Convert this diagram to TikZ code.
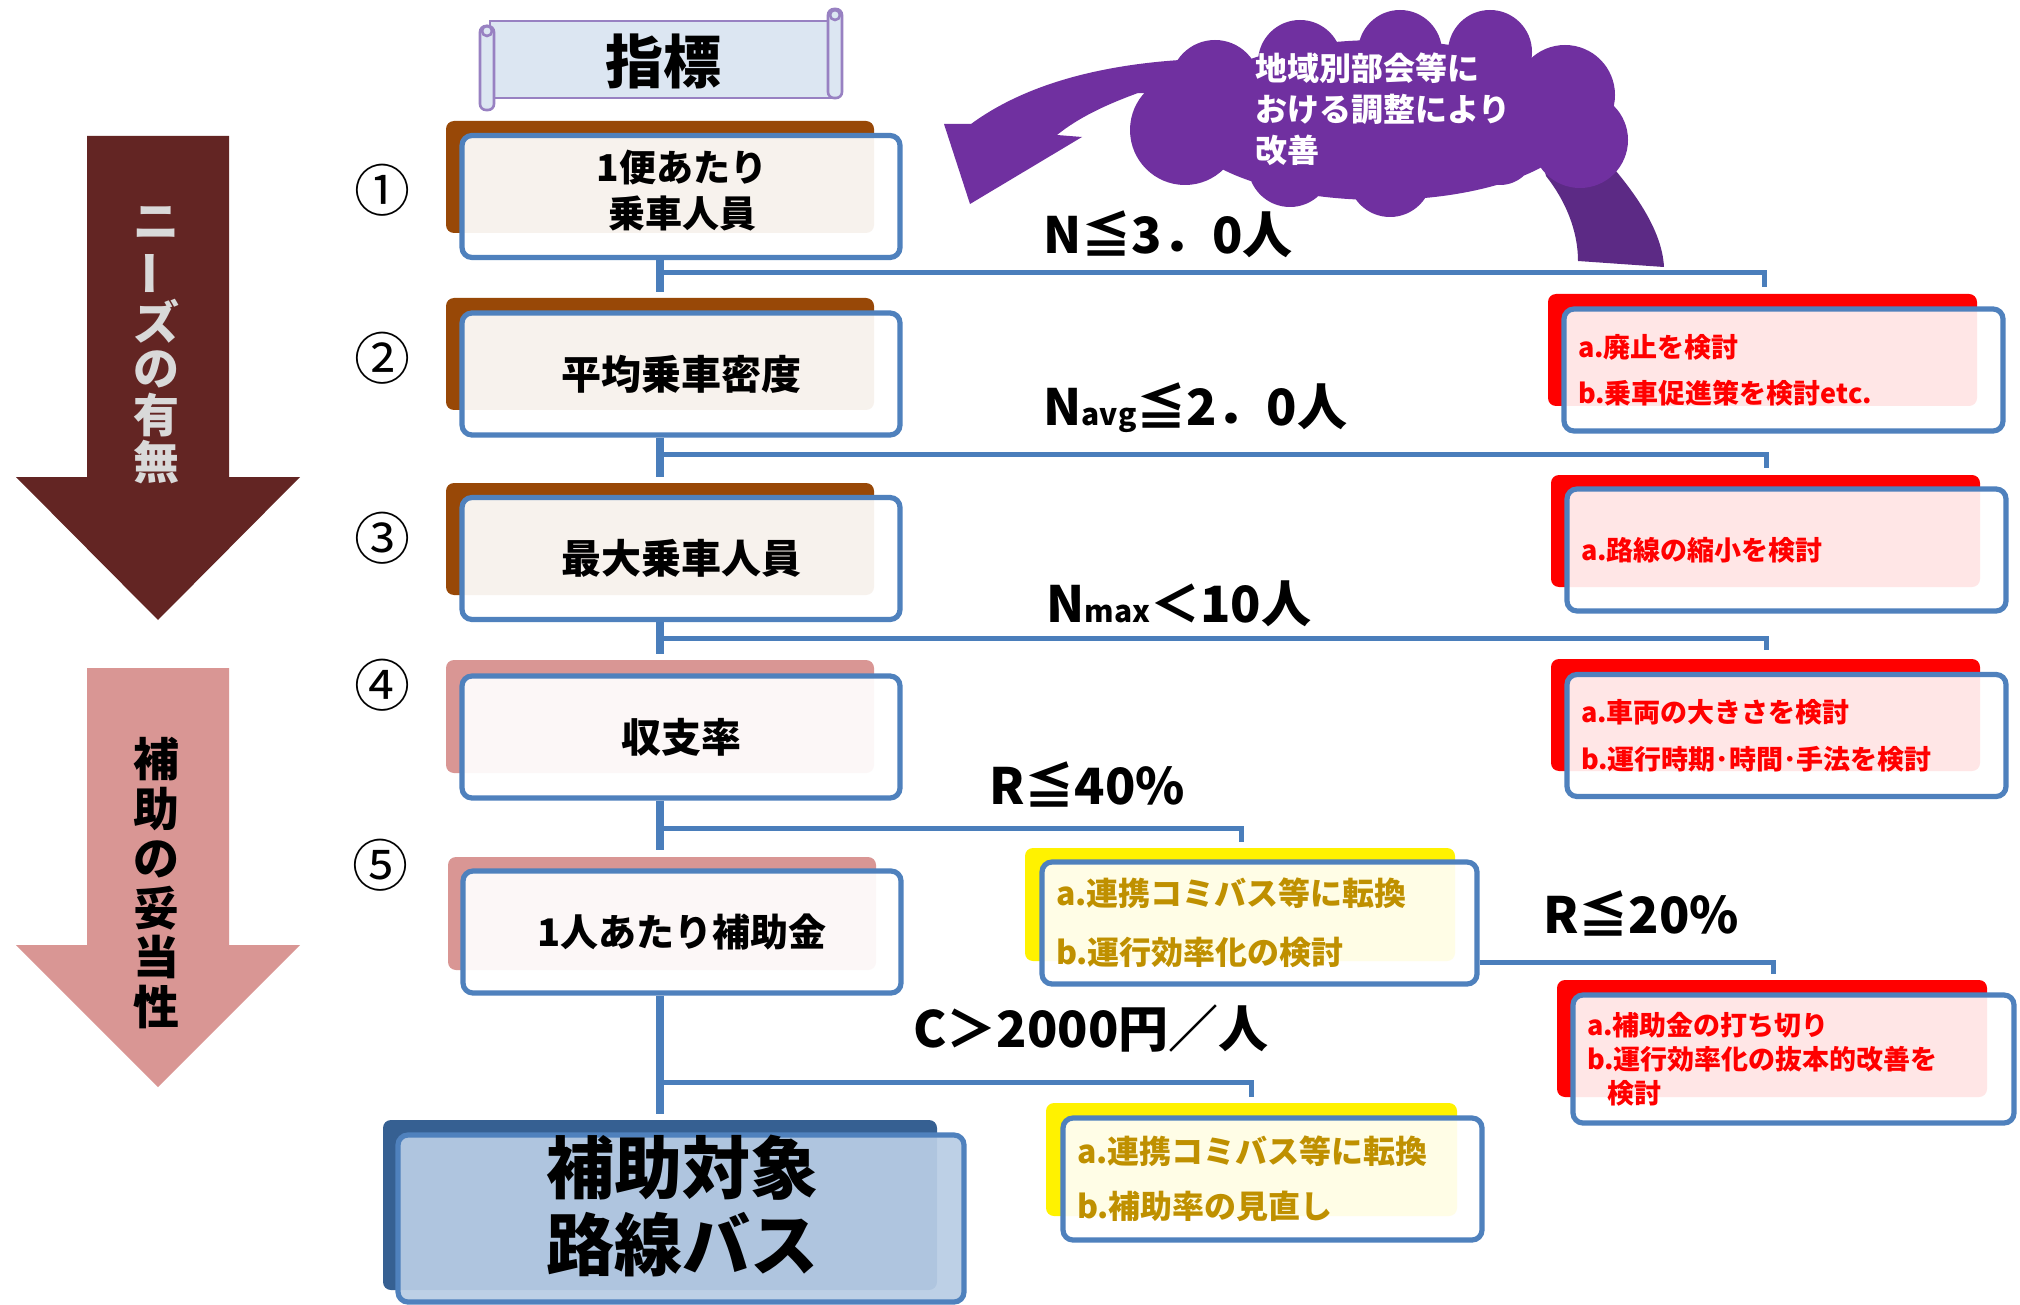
\documentclass[tikz,border=0pt]{standalone}
\usepackage{fontspec}
\setmainfont{Noto Sans CJK JP}
\usetikzlibrary{calc}
\definecolor{boxblue}{HTML}{4F81BD}
\definecolor{lineblue}{HTML}{4A7EBB}
\definecolor{brownsh}{HTML}{984807}
\definecolor{pinksh}{HTML}{D99694}
\definecolor{darkred}{HTML}{632523}
\definecolor{navysh}{HTML}{366092}
\definecolor{finalfill}{HTML}{B9CDE5}
\definecolor{goldtext}{HTML}{BF9000}
\definecolor{cloudpurple}{HTML}{7030A0}
\definecolor{tailpurple}{HTML}{5C2A85}
\definecolor{scrollfill}{HTML}{DCE6F2}
\definecolor{scrollline}{HTML}{9881C2}
\definecolor{lightgraytext}{HTML}{D9D9D9}
\begin{document}
\begin{tikzpicture}[x=0.5pt,y=-0.5pt,
  mainbox/.style={draw=boxblue,line width=2.6pt,rounded corners=5pt,fill=white,fill opacity=0.93,text opacity=1,
    align=center,inner sep=0pt,minimum width=219pt,minimum height=61pt,font=\bfseries\fontsize{20}{24}\selectfont},
  sidebox/.style={draw=boxblue,line width=2.6pt,rounded corners=5pt,fill=white,fill opacity=0.9,text opacity=1,
    align=left,inner xsep=7pt,inner ysep=0pt,minimum height=61pt,text width=205.5pt},
  redtxt/.style={text=red,font=\bfseries\fontsize{13.5}{23}\selectfont},
  goldtxt/.style={text=goldtext,font=\bfseries\fontsize{16}{29.5}\selectfont},
  shadowbox/.style={rounded corners=4pt},
  vline/.style={draw=lineblue,line width=3.8pt},
  hline/.style={draw=lineblue,line width=2.5pt},
  condlabel/.style={anchor=west,inner sep=0pt,font=\bfseries\fontsize{25}{25}\selectfont},
  circnum/.style={inner sep=0pt,font=\fontsize{28}{28}\selectfont},
]
\useasboundingbox (0,0) rectangle (2020,1305);
\fill[white] (0,0) rectangle (2020,1305);

% left arrows
\fill[darkred] (87,136) -- (229,136) -- (229,477) -- (300,477) -- (158,620) -- (16,477) -- (87,477) -- cycle;
\fill[pinksh] (87,668) -- (229,668) -- (229,945) -- (300,945) -- (158,1087) -- (16,945) -- (87,945) -- cycle;
\node[text=lightgraytext,align=center,inner sep=0pt,font=\bfseries\fontsize{23}{23.4}\selectfont] (needs) at (156,345)
  {ニ\\\rotatebox[origin=c]{90}{ー}\\ズ\\の\\有\\無};
\node[text=black,align=center,inner sep=0pt,font=\bfseries\fontsize{23}{24.8}\selectfont] (valid) at (156,883)
  {補\\助\\の\\妥\\当\\性};

% scroll
\filldraw[fill=scrollfill,draw=scrollline,line width=1.3pt] (490,21) rectangle (836,98);
\filldraw[fill=scrollfill,draw=scrollline,line width=1.3pt,rounded corners=3pt] (480,26) rectangle (494,110);
\draw[scrollline,line width=1.3pt] (487,31) circle (5);
\filldraw[fill=scrollfill,draw=scrollline,line width=1.3pt,rounded corners=3pt] (828,9) rectangle (842,98);
\draw[scrollline,line width=1.3pt] (835,15) circle (5);
\node[inner sep=0pt,font=\bfseries\fontsize{29}{29}\selectfont] (title) at (663,61) {指標};

% circled numbers
\node[circnum] (n1) at (382,190) {①};
\node[circnum] (n2) at (382,358) {②};
\node[circnum] (n3) at (382,538) {③};
\node[circnum] (n4) at (382,685) {④};
\node[circnum] (n5) at (380,865) {⑤};

% shadows of left boxes
\fill[brownsh,shadowbox] (446,121) rectangle (874,233);
\fill[brownsh,shadowbox] (446,298) rectangle (874,410);
\fill[brownsh,shadowbox] (446,483) rectangle (874,595);
\fill[pinksh,shadowbox] (446,660) rectangle (874,773);
\fill[pinksh,shadowbox] (448,857) rectangle (876,970);
\fill[navysh,shadowbox] (383,1120) rectangle (937,1290);

% left boxes
\node[mainbox] (b1) at (681,196.5) {};
\node[inner sep=0pt,align=center,font=\bfseries\fontsize{18.5}{23}\selectfont] (b1t) at (682,191) {1便あたり\\乗車人員};
\node[mainbox] (b2) at (681,374) {平均乗車密度};
\node[mainbox] (b3) at (681,558.5) {最大乗車人員};
\node[mainbox] (b4) at (681,737) {収支率};
\node[mainbox,font=\bfseries\fontsize{19}{24}\selectfont] (b5) at (682,932) {1人あたり補助金};
\node[mainbox,fill=finalfill,minimum width=283pt,minimum height=83.5pt] (fin) at (681,1218.5) {};
\node[inner sep=0pt,align=center,font=\bfseries\fontsize{34}{38.75}\selectfont] (fint) at (682,1206) {補助対象\\路線バス};

% shadows of side boxes
\fill[red,shadowbox] (1548,294) rectangle (1977,406);
\fill[red,shadowbox] (1551,475) rectangle (1980,587);
\fill[red,shadowbox] (1551,659) rectangle (1980,771);
\fill[red,shadowbox] (1557,980) rectangle (1987,1097);
\fill[yellow,shadowbox] (1025,848) rectangle (1455,961);
\fill[yellow,shadowbox] (1046,1103) rectangle (1457,1216);

% side boxes
\node[sidebox,redtxt] (r1) at (1783.5,370) {a.廃止を検討\\b.乗車促進策を検討etc.};
\node[sidebox,redtxt] (r2) at (1786.5,550) {a.路線の縮小を検討};
\node[sidebox,redtxt,font=\bfseries\fontsize{13.5}{23.5}\selectfont] (r3) at (1786.5,735.5) {a.車両の大きさを検討\\b.運行時期･時間･手法を検討};
\node[sidebox,redtxt,minimum height=64pt,text width=206.5pt,font=\bfseries\fontsize{13.5}{17}\selectfont] (r4) at (1793.5,1059)
  {a.補助金の打ち切り\\b.運行効率化の抜本的改善を\\\hspace*{10pt}検討};
\node[sidebox,goldtxt,text width=203.5pt] (y1) at (1259.5,923) {a.連携コミバス等に転換\\b.運行効率化の検討};
\node[sidebox,goldtxt,text width=195.5pt,font=\bfseries\fontsize{16}{27.5}\selectfont] (y2) at (1272.5,1179) {a.連携コミバス等に転換\\b.補助率の見直し};

% connectors
\coordinate (v1) at (660,292);
\coordinate (v2) at (660,477);
\coordinate (v3) at (660,654);
\coordinate (v4) at (660,850);
\coordinate (v5) at (660,1114);
\coordinate (t1) at (1764,287);
\coordinate (t2) at (1766,468);
\coordinate (t3) at (1766,650);
\coordinate (t4) at (1241,842);
\coordinate (t5) at (1251,1097);
\coordinate (t6) at (1773,974);
\draw[vline] (v1 |- b1.south) -- (v1);
\draw[vline] (v2 |- b2.south) -- (v2);
\draw[vline] (v3 |- b3.south) -- (v3);
\draw[vline] (v4 |- b4.south) -- (v4);
\draw[vline] (v5 |- b5.south) -- (v5);
\draw[hline] (660,273) -| (t1);
\draw[hline] (660,454) -| (t2);
\draw[hline] (660,638) -| (t3);
\draw[hline] (660,828) -| (t4);
\draw[hline] (660,1082) -| (t5);
\draw[hline] (y1.east |- 0,962) -| (t6);

% condition labels
\node[condlabel] (c1) at (1043,234) {N≦3．0人};
\node[condlabel] (c2) at (1043,408) {N{\fontsize{15}{15}\selectfont avg}≦2．0人};
\node[condlabel] (c3) at (1046,604) {N{\fontsize{15}{15}\selectfont max}＜10人};
\node[condlabel] (c4) at (989,784) {R≦40\%};
\node[condlabel] (c5) at (1543,913) {R≦20\%};
\node[condlabel] (c6) at (913,1028) {C＞2000円／人};

% curved arrow and cloud
\fill[tailpurple] (1540,150) -- (1593,145) .. controls (1635,190) and (1662,230) .. (1664,267)
  -- (1578,261) .. controls (1578,230) and (1565,200) .. (1546,176) -- cycle;
\fill[cloudpurple] (971,124) .. controls (1020,88) and (1090,66) .. (1180,60) -- (1200,95) -- (1138,93)
  .. controls (1105,105) and (1078,118) .. (1057,135) -- (1082,137) -- (970,204) -- (944,124) -- cycle;
\fill[cloudpurple] (1215,85) circle (45) (1300,62) circle (42) (1400,52) circle (42) (1490,52) circle (42)
  (1565,95) circle (50) (1580,140) circle (48) (1500,150) circle (35) (1390,175) circle (42)
  (1290,165) circle (42) (1185,130) circle (55) (1380,120) ellipse [x radius=200, y radius=80];
\node[anchor=west,align=left,inner sep=0pt,text=white,font=\bfseries\fontsize{16}{20.5}\selectfont] (cloudtxt) at (1255,109)
  {地域別部会等に\\おける調整により\\改善};
\end{tikzpicture}
\end{document}
